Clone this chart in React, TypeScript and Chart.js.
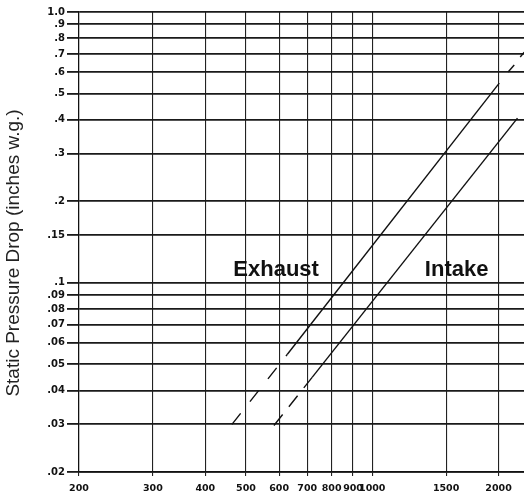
import React, { useEffect, useRef } from "react";
import { Chart, registerables } from "chart.js";

Chart.register(...registerables);

// Axis ticks
const xTickValues = [200, 300, 400, 500, 600, 700, 800, 900, 1000, 1500, 2000];
const xTickLabels = ["200", "300", "400", "500", "600", "700", "800", "900", "1000", "1500", "2000"];
const yTickValues = [1.0, 0.9, 0.8, 0.7, 0.6, 0.5, 0.4, 0.3, 0.2, 0.15, 0.1, 0.09, 0.08, 0.07, 0.06, 0.05, 0.04, 0.03, 0.02];
const yTickLabels = ["1.0", ".9", ".8", ".7", ".6", ".5", ".4", ".3", ".2", ".15", ".1", ".09", ".08", ".07", ".06", ".05", ".04", ".03", ".02"];
const yTitle = "Static Pressure Drop (inches w.g.)";

// Exhaust curve (flow, pressure drop)
const exhaustDashedX = [463, 627];
const exhaustDashedY = [0.03, 0.0543];
const exhaustSolidX = [627, 2008];
const exhaustSolidY = [0.0543, 0.546];
const exhaustTopX1 = [2108, 2180];
const exhaustTopY1 = [0.6, 0.637];
const exhaustTopX2 = [2253, 2303];
const exhaustTopY2 = [0.682, 0.711];

// Intake curve
const intakeDashedX = [583, 719];
const intakeDashedY = [0.0297, 0.0447];
const intakeSolidX = [719, 2219];
const intakeSolidY = [0.0447, 0.4055];

// Curve labels
const curveLabels = ["Exhaust", "Intake"];
const curveLabelX = [590, 1589];
const curveLabelY = [0.106, 0.106];

const pts = (xs: number[], ys: number[]) => xs.map((x, i) => ({ x, y: ys[i] }));

export default function App() {
  const ref = useRef<HTMLCanvasElement | null>(null);

  useEffect(() => {
    if (!ref.current) return;
    const lineColor = "#111";
    const base = {
      showLine: true,
      pointRadius: 0,
      borderColor: lineColor,
      borderWidth: 1.4,
      fill: false,
    };
    const labelPlugin = {
      id: "curveLabels",
      afterDatasetsDraw(chart: any) {
        const { ctx, scales, chartArea } = chart;
        ctx.save();
        ctx.fillStyle = "#111";
        ctx.font = "bold 22px 'Liberation Sans', Arial, sans-serif";
        ctx.textAlign = "center";
        ctx.textBaseline = "alphabetic";
        curveLabels.forEach((t, i) => {
          ctx.fillText(t, scales.x.getPixelForValue(curveLabelX[i]), scales.y.getPixelForValue(curveLabelY[i]));
        });
        ctx.restore();
        // axis title
        ctx.save();
        ctx.fillStyle = "#222";
        ctx.font = "19px 'Liberation Sans', Arial, sans-serif";
        ctx.textAlign = "center";
        ctx.textBaseline = "middle";
        ctx.translate(14, (chartArea.top + chartArea.bottom) / 2 + 11);
        ctx.rotate(-Math.PI / 2);
        ctx.fillText(yTitle, 0, 0);
        ctx.restore();
      },
    };
    const bgPlugin = {
      id: "bg",
      beforeDraw(chart: any) {
        const { ctx, width, height } = chart;
        ctx.save();
        ctx.fillStyle = "#fff";
        ctx.fillRect(0, 0, width, height);
        ctx.restore();
      },
    };
    const chart = new Chart(ref.current, {
      type: "scatter",
      data: {
        datasets: [
          { ...base, data: pts(exhaustDashedX, exhaustDashedY), borderDash: [14, 15] },
          { ...base, data: pts(exhaustSolidX, exhaustSolidY) },
          { ...base, data: pts(exhaustTopX1, exhaustTopY1) },
          { ...base, data: pts(exhaustTopX2, exhaustTopY2) },
          { ...base, data: pts(intakeDashedX, intakeDashedY), borderDash: [14, 10] },
          { ...base, data: pts(intakeSolidX, intakeSolidY) },
        ] as any,
      },
      options: {
        animation: false,
        responsive: true,
        maintainAspectRatio: false,
        layout: { padding: { top: 12, right: 0, left: 0, bottom: 0 } },
        plugins: { legend: { display: false }, tooltip: { enabled: false } },
        scales: {
          x: {
            type: "logarithmic",
            min: 200,
            max: 2300,
            afterBuildTicks: (axis: any) => {
              axis.ticks = xTickValues.map((v) => ({ value: v }));
            },
            afterFit: (scale: any) => {
              scale.height = 26;
            },
            ticks: {
              autoSkip: false,
              maxRotation: 0,
              padding: 7,
              color: "#111",
              font: { family: "'DejaVu Sans'", size: 9.5, weight: "bold" },
              callback: (v: any) => {
                const i = xTickValues.indexOf(Number(v));
                return i >= 0 ? xTickLabels[i] : "";
              },
            },
            grid: { color: "#222", lineWidth: 1.1, tickLength: 4, drawTicks: true },
            border: { color: "#111", width: 1.5 },
          },
          y: {
            type: "logarithmic",
            min: 0.02,
            max: 1.0,
            afterBuildTicks: (axis: any) => {
              axis.ticks = yTickValues.map((v) => ({ value: v }));
            },
            afterFit: (scale: any) => {
              scale.width = 79;
            },
            ticks: {
              autoSkip: false,
              padding: 2,
              color: "#111",
              font: { family: "'DejaVu Sans'", size: 10, weight: "bold" },
              callback: (v: any) => {
                const i = yTickValues.findIndex((t) => Math.abs(t - Number(v)) < 1e-9);
                return i >= 0 ? yTickLabels[i] : "";
              },
            },
            grid: { color: "#1a1a1a", lineWidth: 1.8, tickLength: 12, drawTicks: true },
            border: { color: "#111", width: 1.2 },
            title: { display: false },
          },
        },
      } as any,
      plugins: [bgPlugin, labelPlugin],
    });
    return () => chart.destroy();
  }, []);

  return (
    <div style={{ position: "fixed", left: 0, top: 0, width: 524, height: 498, background: "#fff" }}>
      <canvas ref={ref} />
    </div>
  );
}
